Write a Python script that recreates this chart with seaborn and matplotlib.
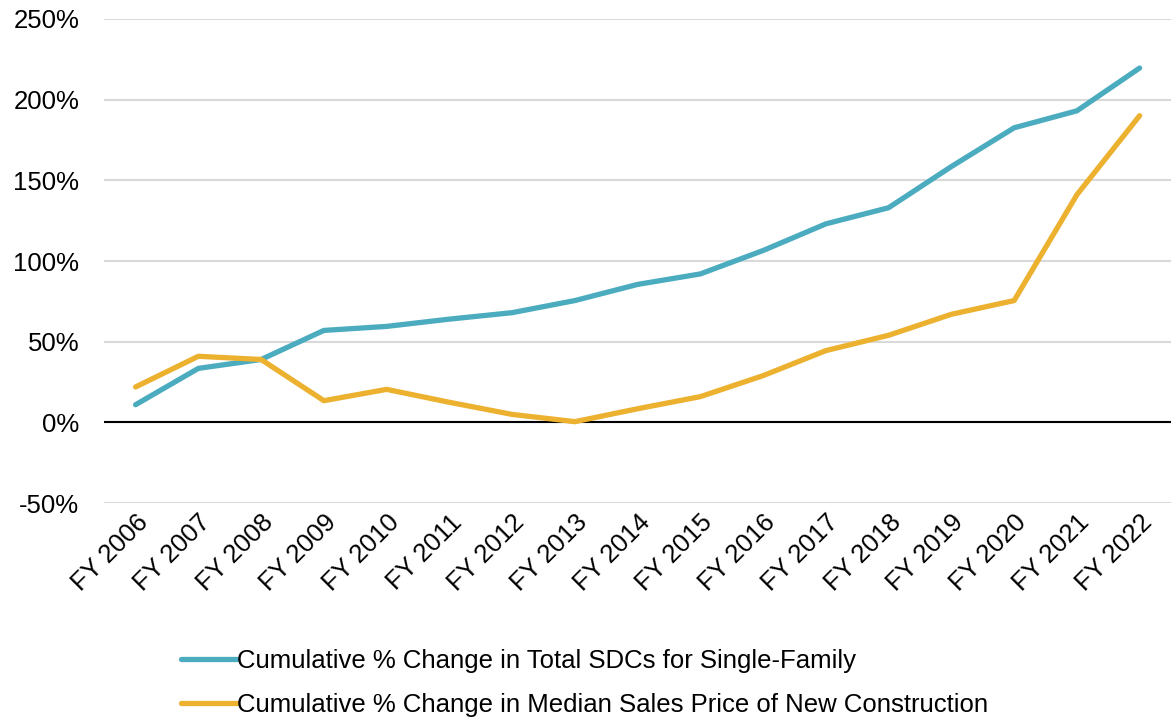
import pandas as pd
import numpy as np
import matplotlib.pyplot as plt
import seaborn as sns

years = ['FY 2006', 'FY 2007', 'FY 2008', 'FY 2009', 'FY 2010', 'FY 2011', 'FY 2012', 'FY 2013', 'FY 2014',
         'FY 2015', 'FY 2016', 'FY 2017', 'FY 2018', 'FY 2019', 'FY 2020', 'FY 2021', 'FY 2022']
sdc_change = [11, 33.5, 39, 57, 59.5, 64, 68, 75.5, 85.5, 92, 106.5, 123, 133, 158.5, 182.5, 193, 219.5]
price_change = [22, 41, 39, 13.5, 20.5, 12.5, 5, 0.5, 8.5, 16, 29, 44.5, 54, 67, 75.5, 141, 190]
series_names = ['Cumulative % Change in Total SDCs for Single-Family',
                'Cumulative % Change in Median Sales Price of New Construction']
y_ticks = [-50, 0, 50, 100, 150, 200, 250]

df = pd.DataFrame({'pos': list(range(len(years))) * 2,
                   'value': sdc_change + price_change,
                   'series': [series_names[0]] * len(years) + [series_names[1]] * len(years)})

sns.set_style('white')
plt.rcParams['font.family'] = ['Liberation Sans', 'DejaVu Sans']
plt.rcParams['text.color'] = 'black'
plt.rcParams['xtick.color'] = 'black'
plt.rcParams['ytick.color'] = 'black'

fig = plt.figure(figsize=(11.71, 7.23), dpi=100)
ax = fig.add_axes([0.089, 0.304, 0.911, 0.67])

ax.grid(axis='y', color='#d9d9d9', linewidth=1.5)
ax.set_axisbelow(True)
ax.axhline(0, color='black', linewidth=1.5, zorder=2)

sns.lineplot(data=df, x='pos', y='value', hue='series', palette=['#4BACC0', '#EBB12F'],
             linewidth=3.8, ax=ax, legend=False, zorder=3, solid_capstyle='round')

ax.set_xlim(-0.5, 16.5)
ax.set_ylim(-50, 250)
ax.set_yticks(y_ticks)
ax.set_yticklabels([f'{t}%' for t in y_ticks], fontsize=18.5)
ax.set_xticks(range(len(years)))
ax.set_xticklabels(years, rotation=45, ha='right', rotation_mode='anchor', fontsize=18.5)
ax.tick_params(axis='both', length=0)
ax.tick_params(axis='x', pad=5)
ax.tick_params(axis='y', pad=18)
ax.set_xlabel('')
ax.set_ylabel('')
for s in ax.spines.values():
    s.set_visible(False)

handles = [plt.Line2D([], [], color=c, linewidth=3.8, solid_capstyle='round') for c in ['#4BACC0', '#EBB12F']]
fig.legend(handles, series_names, loc='upper center', bbox_to_anchor=(0.499, 0.135), frameon=False,
           fontsize=18.5, handlelength=2.2, handletextpad=0.0, labelspacing=0.8)

fig.savefig('out.png', dpi=100)
